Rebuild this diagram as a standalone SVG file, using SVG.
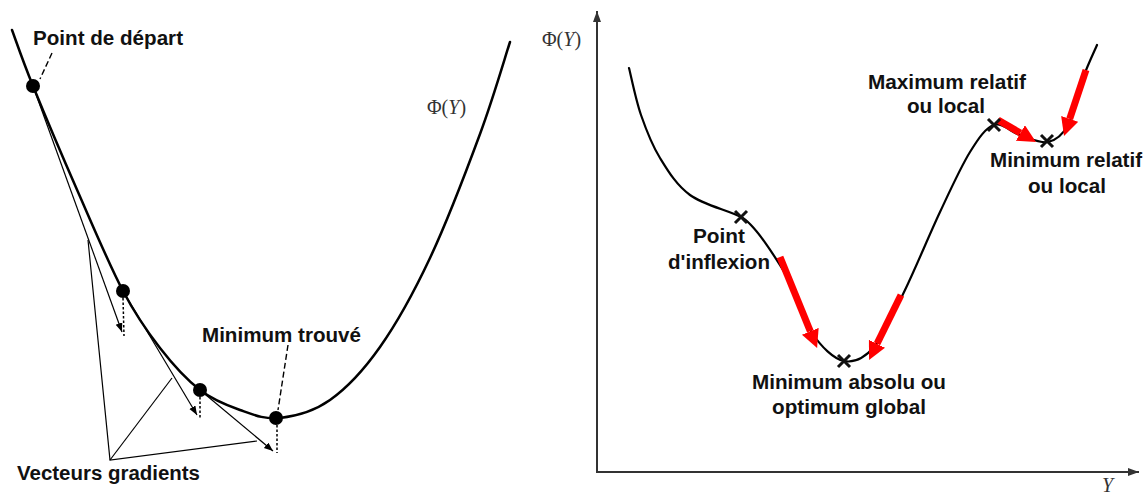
<svg xmlns="http://www.w3.org/2000/svg" width="1145" height="497" viewBox="0 0 1145 497">
<style>
.lbl{font-family:"Liberation Sans",Arial,sans-serif;font-weight:bold;font-size:20px;fill:#111}
.math{font-family:"Liberation Serif","Times New Roman",serif;font-size:20px;fill:#333}
.curve{fill:none;stroke:#000;stroke-width:2.5;stroke-linecap:round;stroke-linejoin:round}
.thin{fill:none;stroke:#000;stroke-width:1.2}
.dot{fill:none;stroke:#000;stroke-width:1.5;stroke-dasharray:2.5 2}
.lead{fill:none;stroke:#000;stroke-width:1.4;stroke-dasharray:6 3}
.axis{fill:none;stroke:#333;stroke-width:2}
.red{fill:none;stroke:#ff0000;stroke-width:7}
.cross{fill:none;stroke:#111;stroke-width:3}
</style>
<defs>
<marker id="tip" markerUnits="userSpaceOnUse" markerWidth="10" markerHeight="8" refX="9" refY="3.5" orient="auto"><path d="M0,0 L9,3.5 L0,7 z" fill="#000"/></marker>
<marker id="axtip" markerUnits="userSpaceOnUse" markerWidth="12" markerHeight="10" refX="11" refY="4" orient="auto"><path d="M0,0 L11,4 L0,8 z" fill="#333"/></marker>
<marker id="redtip" markerUnits="userSpaceOnUse" markerWidth="20" markerHeight="20" refX="0" refY="9" orient="auto"><path d="M0,0 L18,9 L0,18 z" fill="#ff0000"/></marker>
</defs>

<g id="left-plot">
<path class="curve" d="M12,30 C15.5,39.3 22,59 33,86 C44,113 63,157.8 78,192 C93,226.2 109.3,265 123,291 C136.7,317 147.2,331.5 160,348 C172.8,364.5 186.7,379.7 200,390 C213.3,400.3 226.7,405.3 240,410 C253.3,414.7 265,419.7 280,418 C295,416.3 313.3,411.8 330,400 C346.7,388.2 363.3,370.7 380,347 C396.7,323.3 413.3,293.5 430,258 C446.7,222.5 466.7,170 480,134 C493.3,98 505,57.3 510,42"/>
<g id="connectors">
<line class="thin" x1="33" y1="86" x2="122" y2="332" marker-end="url(#tip)"/>
<line class="thin" x1="123" y1="291" x2="197" y2="415" marker-end="url(#tip)"/>
<line class="thin" x1="200" y1="390" x2="273" y2="451" marker-end="url(#tip)"/>
<line class="dot" x1="123" y1="298" x2="124" y2="336"/>
<line class="dot" x1="200" y1="397" x2="200" y2="418"/>
<line class="dot" x1="277" y1="425" x2="277" y2="453"/>
<polyline class="thin" points="88,240 110,460 257,441"/>
<line class="thin" x1="110" y1="460" x2="172" y2="378"/>
<line class="lead" x1="52" y1="53" x2="40" y2="79"/>
<line class="lead" x1="288" y1="345" x2="278" y2="410"/>
</g>
<g id="points">
<circle cx="33" cy="86" r="7"/>
<circle cx="123" cy="291" r="7"/>
<circle cx="200" cy="390" r="7"/>
<circle cx="276" cy="418" r="7"/>
</g>
<g id="left-labels">
<text class="lbl" x="33" y="45" textLength="150" lengthAdjust="spacingAndGlyphs">Point de départ</text>
<text class="lbl" x="202" y="342" textLength="159" lengthAdjust="spacingAndGlyphs">Minimum trouvé</text>
<text class="lbl" x="17" y="480" textLength="183" lengthAdjust="spacingAndGlyphs">Vecteurs gradients</text>
<text class="math" x="427" y="114">Φ(<tspan font-style="italic">Y</tspan>)</text>
</g>
</g>

<g id="right-plot">
<g id="axes">
<line class="axis" x1="597" y1="472" x2="597" y2="11" marker-end="url(#axtip)"/>
<line class="axis" x1="596" y1="472" x2="1139" y2="472" marker-end="url(#axtip)"/>
<text class="math" x="542" y="46">Φ(<tspan font-style="italic">Y</tspan>)</text>
<text class="math" x="1102" y="492" font-style="italic" font-size="17">Y</text>
</g>
<path class="curve" style="stroke-width:2.2" d="M629,68 C631,75.8 635.8,100 641,115 C646.2,130 651.8,144.7 660,158 C668.2,171.3 676.5,185.2 690,195 C703.5,204.8 727,210 741,217 C755,224 776.2,258.7 788,278 C799.8,297.3 802.7,319.2 812,333 C821.3,346.8 833.5,358.8 844,361 C854.5,363.2 864.8,357.8 875,346 C885.2,334.2 894.2,312.3 905,290 C915.8,267.7 929.2,235 940,212 C950.8,189 961,166.5 970,152 C979,137.5 985.7,127.8 994,125 C1002.3,122.2 1011,132.2 1020,135 C1029,137.8 1040,143.7 1048,142 C1056,140.3 1062.2,135.7 1068,125 C1073.8,114.3 1078.2,91.3 1083,78 C1087.8,64.7 1094.7,50.5 1097,45"/>
<g id="red-arrows">
<line class="red" x1="780" y1="257" x2="810.3" y2="331.3" marker-end="url(#redtip)"/>
<line class="red" x1="901" y1="295" x2="877" y2="343.8" marker-end="url(#redtip)"/>
<line class="red" x1="998" y1="120" x2="1020.4" y2="133" marker-end="url(#redtip)"/>
<line class="red" x1="1086" y1="70" x2="1069.7" y2="118.9" marker-end="url(#redtip)"/>
</g>
<g id="markers">
<path class="cross" d="M735,211 L747,223 M747,211 L735,223"/>
<path class="cross" d="M838,355 L850,367 M850,355 L838,367"/>
<path class="cross" d="M988,119 L1000,131 M1000,119 L988,131"/>
<path class="cross" d="M1041,135 L1053,147 M1053,135 L1041,147"/>
</g>
<g id="right-labels">
<text class="lbl" x="693" y="243" textLength="52" lengthAdjust="spacingAndGlyphs">Point</text>
<text class="lbl" x="668" y="269" textLength="102" lengthAdjust="spacingAndGlyphs">d'inflexion</text>
<text class="lbl" x="868" y="89" textLength="158" lengthAdjust="spacingAndGlyphs">Maximum relatif</text>
<text class="lbl" x="907" y="113" textLength="78" lengthAdjust="spacingAndGlyphs">ou local</text>
<text class="lbl" x="990" y="167" textLength="152" lengthAdjust="spacingAndGlyphs">Minimum relatif</text>
<text class="lbl" x="1028" y="193" textLength="78" lengthAdjust="spacingAndGlyphs">ou local</text>
<text class="lbl" x="752" y="389" textLength="194" lengthAdjust="spacingAndGlyphs">Minimum absolu ou</text>
<text class="lbl" x="772" y="414" textLength="154" lengthAdjust="spacingAndGlyphs">optimum global</text>
</g>
</g>
</svg>
